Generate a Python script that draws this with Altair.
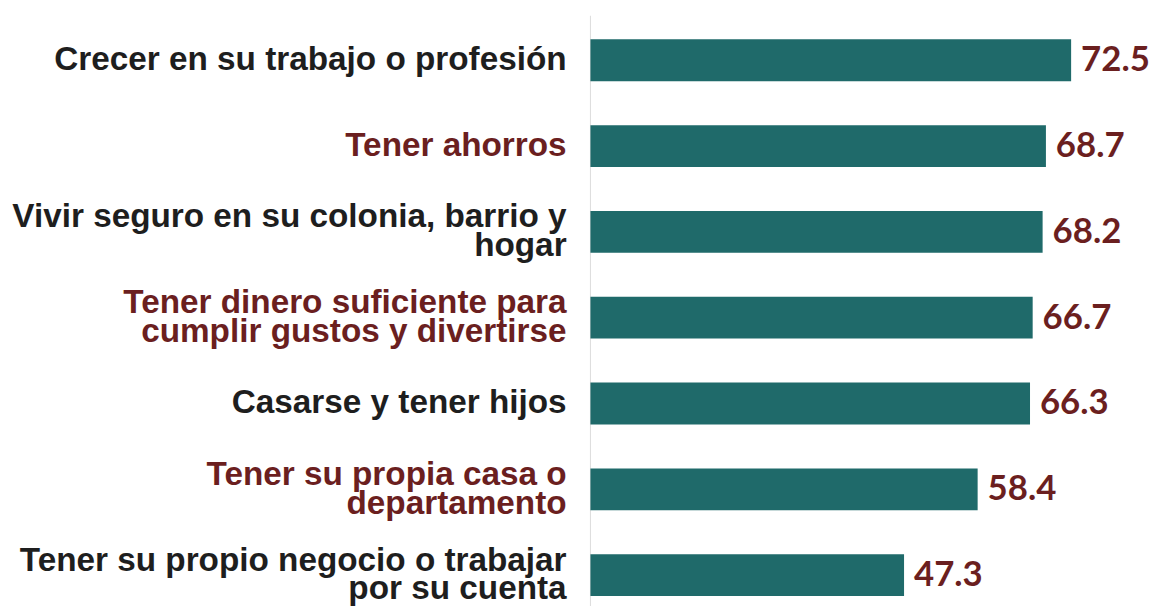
import altair as alt
import pandas as pd

categories = [
    "Crecer en su trabajo o profesión",
    "Tener ahorros",
    "Vivir seguro en su colonia, barrio y\nhogar",
    "Tener dinero suficiente para\ncumplir gustos y divertirse",
    "Casarse y tener hijos",
    "Tener su propia casa o\ndepartamento",
    "Tener su propio negocio o trabajar\npor su cuenta",
]
values = [72.5, 68.7, 68.2, 66.7, 66.3, 58.4, 47.3]
label_colors = ["#1e1e1e", "#6b1f1f", "#1e1e1e", "#6b1f1f", "#1e1e1e", "#6b1f1f", "#1e1e1e"]

df = pd.DataFrame({"cat": categories, "val": values, "lc": label_colors,
                   "vtxt": [f"{v:.1f}" for v in values],
                   "multi": ["\n" in c for c in categories]})

W, H = 567, 563.5
yscale = alt.Scale(paddingInner=0.513, paddingOuter=0.02)
xscale = alt.Scale(domain=[0, 85])

base = alt.Chart(df)
y = alt.Y("cat:N", sort=categories, scale=yscale, axis=None)

bars = base.mark_bar(color="#1f6a6a").encode(
    x=alt.X("val:Q", scale=xscale, axis=None),
    y=y,
)

vals = base.mark_text(align="left", baseline="middle", dx=10, font="Lato",
                      fontWeight="bold", fontSize=35, color="#6b1f1f").encode(
    x=alt.X("val:Q", scale=xscale, axis=None),
    y=y,
    text="vtxt:N",
)

label_style = dict(align="right", baseline="middle", font="Liberation Sans",
                   fontWeight="bold", fontSize=33.5, lineHeight=29, lineBreak="\n")

labels1 = base.transform_filter("!datum.multi").mark_text(**label_style).encode(
    x=alt.value(-24), y=y, text="cat:N", color=alt.Color("lc:N", scale=None),
)
labels2 = base.transform_filter("datum.multi").mark_text(dy=-14.5, **label_style).encode(
    x=alt.value(-24), y=y, text="cat:N", color=alt.Color("lc:N", scale=None),
)

rule = alt.Chart(pd.DataFrame({"a": [0]})).mark_rule(color="#dcdcdc", strokeWidth=1).encode(
    x=alt.value(0), y=alt.value(-22), y2=alt.value(H + 10)
)

chart = alt.layer(rule, bars, vals, labels1, labels2).properties(
    width=W, height=H,
    autosize=alt.AutoSizeParams(type="none"),
    padding={"left": 586, "top": 28, "right": 0, "bottom": 6},
).configure_view(stroke=None)

chart.save("out.html", embed_options={"renderer": "svg", "actions": False})
